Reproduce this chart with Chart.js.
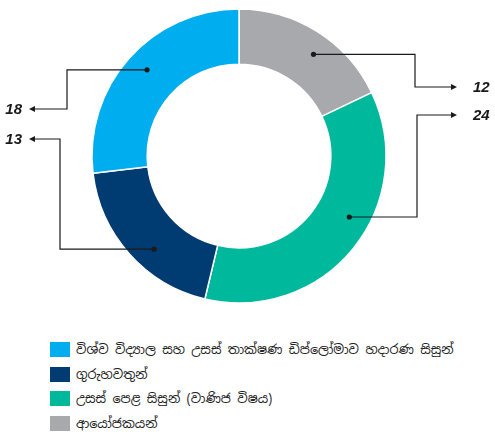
<!DOCTYPE html>
<html>
<head>
<meta charset="utf-8">
<script src="https://cdn.jsdelivr.net/npm/chart.js@4.4.0/dist/chart.umd.min.js"></script>
<style>
  html, body { margin: 0; padding: 0; background: #fff; }
  #wrap { position: relative; width: 495px; height: 432px; overflow: hidden; }
  #chart { position: absolute; left: 0; top: 0; }
  #legend { position: absolute; left: 50px; top: 337px; margin: 0; padding: 0; list-style: none;
    font-family: "Noto Sans Sinhala", "Iskoola Pota", "Noto Sans", sans-serif; font-size: 12.8px; color: #222; }
  #legend li { height: 24.8px; display: flex; align-items: center; }
  #legend span.box { display: inline-block; width: 20px; height: 15px; margin-right: 6px; }
</style>
</head>
<body>
<div id="wrap">
  <canvas id="chart" width="495" height="320"></canvas>
  <ul id="legend"></ul>
</div>
<script>
// data
const categories = [
  "ආයෝජකයන්",
  "උසස් පෙළ සිසුන් (වාණිජ විෂය)",
  "ගුරුහවතුන්",
  "විශ්ව විද්‍යාල සහ උසස් තාක්ෂණ ඩිප්ලෝමාව හදාරණ සිසුන්"
];
const counts = [12, 24, 13, 18];
const colors = ["#a7a9ac", "#00b89c", "#003b71", "#00adee"];

// callout layout (same order as the data)
const callouts = [
  { side: "right", elbowX: 415, labelY: 87, shift: 4 },
  { side: "right", elbowX: 417, labelY: 115, shift: -10 },
  { side: "left", elbowX: 60, labelY: 139, shift: -6 },
  { side: "left", elbowX: 67, labelY: 109, shift: 1.5 }
];

const calloutPlugin = {
  id: "callouts",
  afterDatasetsDraw(chart) {
    const ctx = chart.ctx;
    const arcs = chart.getDatasetMeta(0).data;
    ctx.save();
    ctx.strokeStyle = "#1a1a1a";
    ctx.fillStyle = "#1a1a1a";
    ctx.lineWidth = 1.2;
    arcs.forEach((arc, i) => {
      const c = callouts[i];
      const p = arc.getProps(["x", "y", "startAngle", "endAngle", "innerRadius", "outerRadius"], true);
      const a = (p.startAngle + p.endAngle) / 2 + c.shift * Math.PI / 180;
      const r = p.innerRadius + 0.62 * (p.outerRadius - p.innerRadius);
      const dx = p.x + Math.cos(a) * r;
      const dy = p.y + Math.sin(a) * r;
      const tipX = c.side === "right" ? 457 : 29;
      const dir = c.side === "right" ? 1 : -1;

      ctx.beginPath();
      ctx.moveTo(dx, dy);
      ctx.lineTo(c.elbowX, dy);
      ctx.lineTo(c.elbowX, c.labelY);
      ctx.lineTo(tipX - dir * 4, c.labelY);
      ctx.stroke();

      ctx.beginPath();
      ctx.moveTo(tipX, c.labelY);
      ctx.lineTo(tipX - dir * 6, c.labelY - 3);
      ctx.lineTo(tipX - dir * 6, c.labelY + 3);
      ctx.closePath();
      ctx.fill();

      ctx.beginPath();
      ctx.arc(dx, dy, 2.6, 0, Math.PI * 2);
      ctx.fill();

      ctx.font = "italic bold 15px 'Liberation Sans', sans-serif";
      ctx.textBaseline = "middle";
      ctx.textAlign = c.side === "right" ? "left" : "right";
      ctx.fillText(String(counts[i]), c.side === "right" ? 473 : 22, c.labelY + 1);
    });
    ctx.restore();
  }
};

new Chart(document.getElementById("chart"), {
  type: "doughnut",
  data: {
    labels: categories,
    datasets: [{
      data: counts,
      backgroundColor: colors,
      borderColor: "#ffffff",
      borderWidth: 1.5
    }]
  },
  options: {
    responsive: false,
    animation: false,
    radius: 147,
    cutout: 97,
    layout: { padding: { left: 0, right: 17, top: 0, bottom: 8 } },
    plugins: {
      legend: { display: false },
      tooltip: { enabled: false }
    }
  },
  plugins: [calloutPlugin]
});

// legend, listed in reverse order like the original
const legend = document.getElementById("legend");
for (let i = categories.length - 1; i >= 0; i--) {
  const li = document.createElement("li");
  const box = document.createElement("span");
  box.className = "box";
  box.style.background = colors[i];
  li.appendChild(box);
  li.appendChild(document.createTextNode(categories[i]));
  legend.appendChild(li);
}
</script>
</body>
</html>
